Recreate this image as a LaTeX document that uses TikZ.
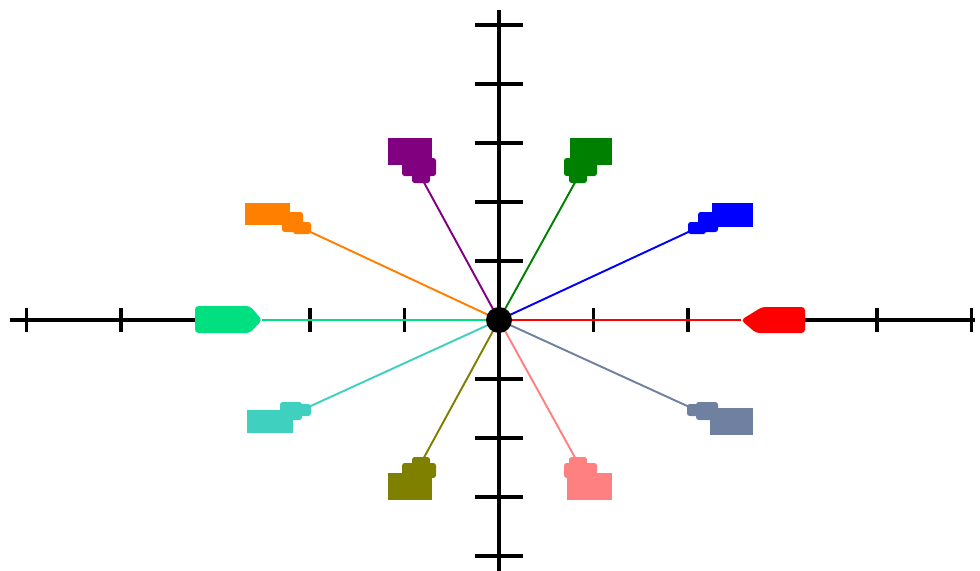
\documentclass[tikz,border=0pt]{standalone}
\usepackage{xcolor}
\usepackage{tikz}
\usetikzlibrary{calc}
\definecolor{cpurple}{RGB}{128,0,128}
\definecolor{cgreen}{RGB}{0,128,0}
\definecolor{corange}{RGB}{255,128,0}
\definecolor{cblue}{RGB}{0,0,255}
\definecolor{cspring}{RGB}{0,224,128}
\definecolor{cred}{RGB}{255,0,0}
\definecolor{cturq}{RGB}{64,208,192}
\definecolor{cslate}{RGB}{112,128,160}
\definecolor{colive}{RGB}{128,128,0}
\definecolor{cpink}{RGB}{255,128,128}
\tikzset{
	axisline/.style={line width=1.9pt, black},
	axtick/.style={line width=1.9pt, black},
	spoke/.style={line width=1.1pt},
	hub/.style={circle, fill=black, inner sep=0pt, minimum size=0.52cm}
}
\begin{document}
\begin{tikzpicture}[x=0.02cm, y=-0.02cm]
	\useasboundingbox (0,0) rectangle (980,571);
	
	%% -- Centre and horizontal spoke ends
	\coordinate (o) at (499,320);
	\coordinate (t-sp) at (262,320);
	\coordinate (t-rd) at (741,320);
	
	%% -- Axes (horizontal one stops under the two markers)
	\draw[axisline] (10,320) -- (225,320);
	\draw[axisline] (780,320) -- (975,320);
	\draw[axisline] (499,10) -- (499,571);
	\foreach \k in {-5,-4,-3,-2,-1,1,2,3,4,5}
	\draw[axtick] ({499+94.5*\k},308) -- ++(0,24);
	\foreach \k in {-5,-4,-3,-2,-1,1,2,3,4}
	\draw[axtick] (475,{320+59*\k}) -- ++(48,0);
	
	%% -- Diagonal spokes with their markers
	\foreach \n/\col/\xa/\ya/\xb/\yb/\xc/\yc/\xd/\yd/\tx/\ty in {
		pu/cpurple/388/138/432/165/402/158/436/176/421/177,
		gr/cgreen/570/138/612/165/564/158/597/176/578/177,
		or/corange/245/203/290/225/282/212/303/232/302/228,
		bl/cblue/712/203/753/227/698/212/718/232/697/228,
		tu/cturq/247/410/293/433/280/402/302/420/302/410,
		sl/cslate/710/408/753/435/696/402/718/420/696/410,
		ol/colive/388/473/432/500/402/463/436/478/421/463,
		pk/cpink/567/473/612/500/564/463/597/478/578/463}{
		\coordinate (t-\n) at (\tx,\ty);
		\draw[spoke, \col] (o) -- (t-\n);
		\fill[\col] (\xa,\ya) rectangle (\xb,\yb);
		\fill[\col, rounded corners=1.5pt] (\xc,\yc) rectangle (\xd,\yd);
		\fill[\col, rounded corners=1.5pt] ($(t-\n)+(-9,-6)$) rectangle ($(t-\n)+(9,6)$);
	}
	
	%% -- Horizontal spokes
	\draw[spoke, cspring] (o) -- (t-sp);
	\draw[spoke, cred] (o) -- (t-rd);
	\fill[cspring, rounded corners=2pt] (195,306) -- (250,306) -- (t-sp)
	-- (250,333) -- (195,333) -- cycle;
	\fill[cred, rounded corners=2pt] (805,307) -- (762,307) -- (t-rd)
	-- (756,333) -- (805,333) -- cycle;
	
	\node[hub] (h) at (o) {};
\end{tikzpicture}
\end{document}
